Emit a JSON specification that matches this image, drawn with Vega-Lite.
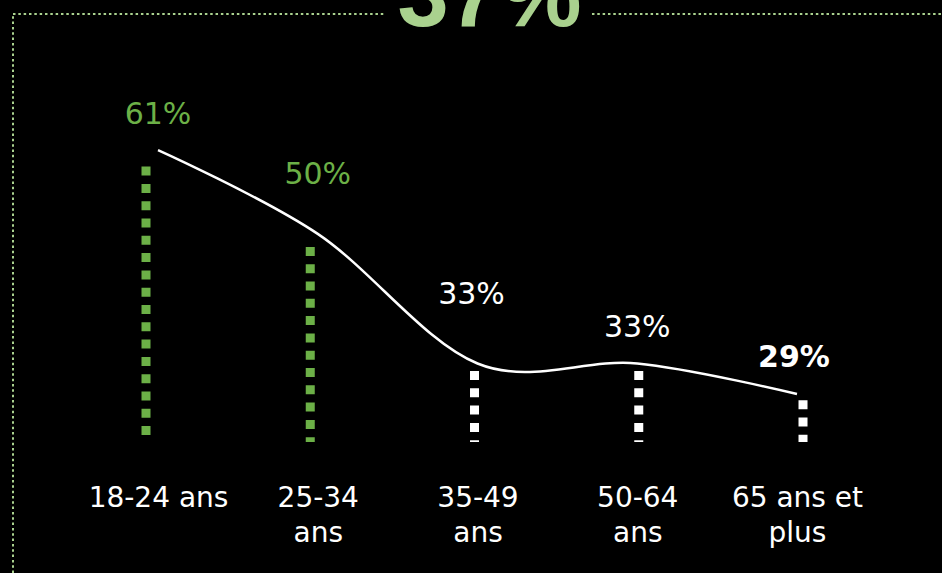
{
  "$schema": "https://vega.github.io/schema/vega-lite/v6.json",
  "background": "black",
  "autosize": {"type": "none"},
  "padding": {"left": 13, "top": 14, "right": 0, "bottom": 0},
  "width": 929,
  "height": 559,
  "title": {
    "text": "37%",
    "anchor": "middle",
    "frame": "group",
    "color": "#a9d18e",
    "font": "Liberation Sans",
    "fontSize": 92,
    "fontWeight": "bold",
    "baseline": "alphabetic",
    "offset": -104,
    "dx": 12
  },
  "view": {
    "stroke": "#a9d18e",
    "strokeWidth": 2,
    "strokeDash": [2.5,2.83,2.5,2.83,2.5,2.83,2.5,2.83,2.5,2.83,2.5,2.83,2.5,2.83,2.5,2.83,2.5,2.83,2.5,2.83,
2.5,2.83,2.5,2.83,2.5,2.83,2.5,2.83,2.5,2.83,2.5,2.83,2.5,2.83,2.5,2.83,2.5,2.83,2.5,2.83,
2.5,2.83,2.5,2.83,2.5,2.83,2.5,2.83,2.5,2.83,2.5,2.83,2.5,2.83,2.5,2.83,2.5,2.83,2.5,2.83,
2.5,2.83,2.5,2.83,2.5,2.83,2.5,2.83,2.5,2.83,2.5,2.83,2.5,2.83,2.5,2.83,2.5,2.83,2.5,2.83,
2.5,2.83,2.5,2.83,2.5,2.83,2.5,2.83,2.5,2.83,2.5,2.83,2.5,2.83,2.5,2.83,2.5,2.83,2.5,2.83,
2.5,2.83,2.5,2.83,2.5,2.83,2.5,2.83,2.5,2.83,2.5,2.83,2.5,2.83,2.5,2.83,2.5,2.83,2.5,2.83,
2.5,2.83,2.5,2.83,2.5,2.83,2.5,2.83,2.5,2.83,2.5,2.83,2.5,2.83,2.5,2.83,2.5,2.83,
2.5,208.7,
2.5,2.83,2.5,2.83,2.5,2.83,2.5,2.83,2.5,2.83,2.5,2.83,2.5,2.83,2.5,2.83,2.5,2.83,2.5,2.83,
2.5,2.83,2.5,2.83,2.5,2.83,2.5,2.83,2.5,2.83,2.5,2.83,2.5,2.83,2.5,2.83,2.5,2.83,2.5,2.83,
2.5,2.83,2.5,2.83,2.5,2.83,2.5,2.83,2.5,2.83,2.5,2.83,2.5,2.83,2.5,2.83,2.5,2.83,2.5,2.83,
2.5,2.83,2.5,2.83,2.5,2.83,2.5,2.83,2.5,2.83,2.5,2.83,2.5,2.83,2.5,2.83,2.5,2.83,2.5,2.83,
2.5,2.83,2.5,2.83,2.5,2.83,2.5,2.83,2.5,2.83,2.5,2.83,2.5,2.83,2.5,2.83,2.5,2.83,2.5,2.83,
2.5,2.83,2.5,2.83,2.5,2.83,2.5,2.83,2.5,2.83,2.5,2.83,2.5,2.83,2.5,2.83,2.5,2.83,2.5,2.83,
2.5,2.83,2.5,2.83,2.5,2.83,2.5,2.83,2.5,2.83,
2.5,1489,
2.5,2.83,2.5,2.83,2.5,2.83,2.5,2.83,2.5,2.83,2.5,2.83,2.5,2.83,2.5,2.83,2.5,2.83,2.5,2.83,
2.5,2.83,2.5,2.83,2.5,2.83,2.5,2.83,2.5,2.83,2.5,2.83,2.5,2.83,2.5,2.83,2.5,2.83,2.5,2.83,
2.5,2.83,2.5,2.83,2.5,2.83,2.5,2.83,2.5,2.83,2.5,2.83,2.5,2.83,2.5,2.83,2.5,2.83,2.5,2.83,
2.5,2.83,2.5,2.83,2.5,2.83,2.5,2.83,2.5,2.83,2.5,2.83,2.5,2.83,2.5,2.83,2.5,2.83,2.5,2.83,
2.5,2.83,2.5,2.83,2.5,2.83,2.5,2.83,2.5,2.83,2.5,2.83,2.5,2.83,2.5,2.83,2.5,2.83,2.5,2.83,
2.5,2.83,2.5,2.83,2.5,2.83,2.5,2.83,2.5,2.83,2.5,2.83,2.5,2.83,2.5,2.83,2.5,2.83,2.5,2.83,
2.5,2.83,2.5,2.83,2.5,2.83,2.5,2.83,2.5,2.83,2.5,2.83,2.5,2.83,2.5,2.83,2.5,2.83,2.5,2.83,
2.5,2.83,2.5,2.83,2.5,2.83,2.5,2.83,2.5,2.83,2.5,2.83,2.5,2.83,2.5,2.83,2.5,2.83,2.5,2.83,
2.5,2.83,2.5,2.83,2.5,2.83,2.5,2.83,2.5,2.83,2.5,2.83,2.5,2.83,2.5,2.83,2.5,2.83,2.5,2.83,
2.5,2.83,2.5,2.83,2.5,2.83,2.5,2.83,2.5,2.83,2.5,2.83,2.5,2.83,2.5,2.83,2.5,2.83,2.5,2.83,
2.5,2.83,2.5,2.83,2.5,2.83,2.5,2.83,2.5,2.83,2.5,2.83,2.5,2.83,2.5,2.83,2.5,2.83,2.5,2.83]
  },
  "config": {"axis": {"grid": false}},
  "data": {
    "values": [
      {"age": "18-24 ans", "value": 0.61},
      {"age": "25-34 ans", "value": 0.50},
      {"age": "35-49 ans", "value": 0.33},
      {"age": "50-64 ans", "value": 0.33},
      {"age": "65 ans et plus", "value": 0.29}
    ]
  },
  "layer": [
    {
      "mark": {"type": "rule", "strokeWidth": 9, "strokeDash": [9, 8.3], "strokeCap": "butt"},
      "encoding": {
        "x": {"field": "age", "type": "ordinal", "sort": null, "scale": {"type": "point", "padding": 0.828, "align": 0.489}, "axis": null},
        "y": {"field": "value", "type": "quantitative", "scale": {"domain": [0.0533, 0.819], "zero": false, "nice": false}, "axis": null},
        "y2": {"datum": 0.2327},
        "color": {"condition": {"test": "datum.value >= 0.5", "value": "#6cb047"}, "value": "#ffffff"}
      }
    },
    {
      "encoding": {
        "x": {
          "field": "age", "type": "ordinal", "sort": null,
          "scale": {"type": "point", "padding": 0.9077, "align": 0.5},
          "axis": {
            "orient": "bottom", "title": null, "domain": false, "ticks": false, "tickSize": 0,
            "labelPadding": 0, "offset": -67, "labelBaseline": "alphabetic", "labelAngle": 0,
            "labelFont": "DejaVu Sans", "labelFontSize": 28, "labelColor": "#ffffff",
            "labelLineHeight": 35, "labelOverlap": false, "labelFlush": false, "labelLimit": 0,
            "labelExpr": "datum.value == '18-24 ans' ? datum.value : (datum.value == '65 ans et plus' ? ['65 ans et', 'plus'] : split(datum.value, ' '))"
          }
        },
        "y": {"field": "value", "type": "quantitative", "scale": {"domain": [0.0552, 0.7884], "zero": false, "nice": false}, "axis": null}
      },
      "layer": [
        {"mark": {"type": "line", "interpolate": "cardinal", "color": "#ffffff", "strokeWidth": 2.5}},
        {
          "transform": [{"filter": {"field": "age", "oneOf": ["18-24 ans", "50-64 ans"]}}],
          "mark": {"type": "text", "font": "DejaVu Sans", "fontSize": 30, "baseline": "middle", "dy": -35},
          "encoding": {
            "text": {"field": "value", "format": ".0%"},
            "color": {"condition": {"test": "datum.value >= 0.5", "value": "#6cb047"}, "value": "#ffffff"}
          }
        },
        {
          "transform": [{"filter": {"field": "age", "equal": "25-34 ans"}}],
          "mark": {"type": "text", "font": "DejaVu Sans", "fontSize": 30, "baseline": "middle", "dy": -59, "color": "#6cb047"},
          "encoding": {"text": {"field": "value", "format": ".0%"}}
        },
        {
          "transform": [{"filter": {"field": "age", "equal": "35-49 ans"}}],
          "mark": {"type": "text", "font": "DejaVu Sans", "fontSize": 30, "baseline": "middle", "dy": -68, "dx": -6, "color": "#ffffff"},
          "encoding": {"text": {"field": "value", "format": ".0%"}}
        },
        {
          "transform": [{"filter": {"field": "age", "equal": "65 ans et plus"}}],
          "mark": {"type": "text", "font": "DejaVu Sans", "fontSize": 30, "fontWeight": "bold", "baseline": "middle", "dy": -36, "dx": -3, "color": "#ffffff"},
          "encoding": {"text": {"field": "value", "format": ".0%"}}
        }
      ]
    }
  ],
  "resolve": {"scale": {"x": "independent", "y": "independent"}}
}
